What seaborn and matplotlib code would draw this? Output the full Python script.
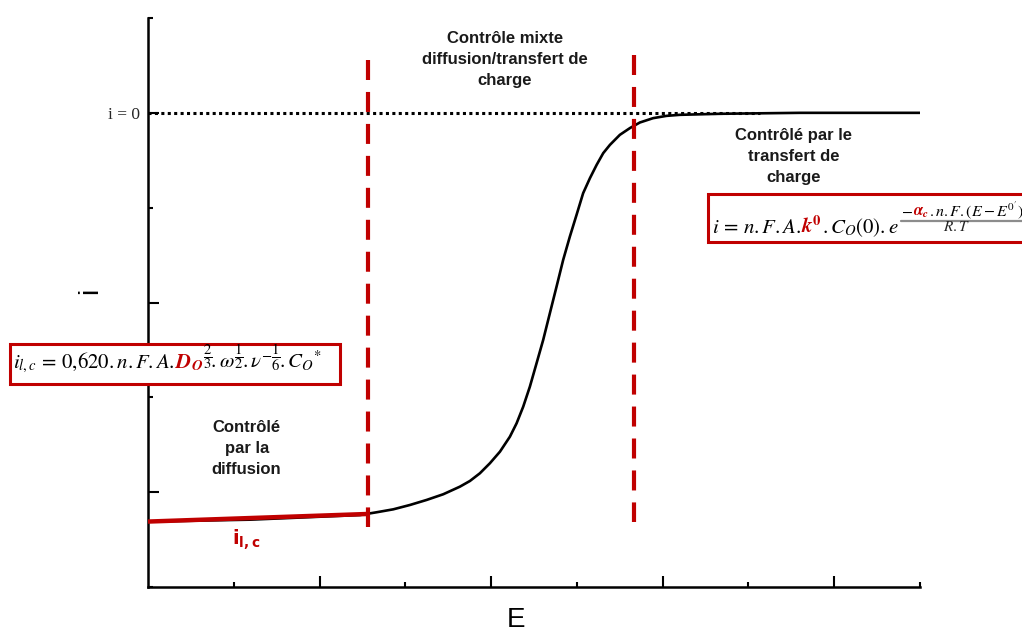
import matplotlib
matplotlib.use("Agg")
import matplotlib.pyplot as plt
import matplotlib.transforms as mtransforms
from matplotlib.patches import Rectangle
from matplotlib.lines import Line2D
import seaborn as sns

# --- values (E and i in tick units, i = 0 is the top plateau)
E_curve = [0.0, 1.19, 2.471, 2.665, 2.859, 3.054, 3.248, 3.442, 3.636, 3.753, 3.869, 3.986,
           4.103, 4.219, 4.297, 4.374, 4.452, 4.530, 4.607, 4.685, 4.763, 4.840, 4.918,
           4.996, 5.073, 5.152, 5.230, 5.307, 5.385, 5.501, 5.618, 5.734, 5.889, 6.045,
           6.200, 6.67, 7.60, 9.0]
i_curve = [-4.31, -4.29, -4.241, -4.212, -4.181, -4.135, -4.082, -4.022, -3.942, -3.882,
           -3.801, -3.695, -3.573, -3.415, -3.274, -3.099, -2.887, -2.640, -2.395, -2.113,
           -1.832, -1.551, -1.305, -1.076, -0.847, -0.689, -0.549, -0.425, -0.338, -0.232,
           -0.161, -0.102, -0.056, -0.032, -0.021, -0.01, 0.0, 0.0]

E_limit = [0.0, 2.56]
i_limit = [-4.31, -4.23]

E_bounds = [2.56, 5.66]
i_bounds_top = [0.56, 0.61]
i_bounds_bottom = [-4.37, -4.31]

E_zero = [0.0, 7.13]
i_zero = [0.0, 0.0]

x_major = [2, 4, 6, 8]
x_minor = [1, 3, 5, 7, 9]
y_major = [-4, -2, 0]
y_major_labels = ["", "", "i = 0"]
y_minor = [-5, -3, -1, 1]

RED = "#C00000"


def chain_text(fig, x, y, pieces, size):
    """Draw mathtext pieces one after another on the same baseline (display px)."""
    renderer = fig.canvas.get_renderer()
    tr = mtransforms.IdentityTransform()
    extents = []
    for s, c in pieces:
        t = fig.text(x, y, s, color=c, fontsize=size, va="baseline", ha="left",
                     transform=tr, zorder=5)
        ex = t.get_window_extent(renderer)
        extents.append(ex)
        tr = mtransforms.offset_copy(t.get_transform(), x=ex.width, units="dots")
    return extents


def main():
    sns.set_theme(style="ticks")
    plt.rcParams["font.family"] = ["Liberation Sans", "DejaVu Sans"]
    plt.rcParams["mathtext.fontset"] = "stix"

    W, H = 1022, 634
    fig = plt.figure(figsize=(W / 100, H / 100), dpi=100)
    ax = fig.add_axes([148 / W, 47 / H, 772 / W, 569 / H])

    # curve and guides
    ax.plot(E_zero, i_zero, color="black", lw=2.2, linestyle=(0, (1, 1.1)), zorder=2)
    sns.lineplot(x=E_curve, y=i_curve, color="black", lw=1.9, ax=ax, zorder=3)
    ax.plot(E_limit, i_limit, color=RED, lw=3.2, solid_capstyle="butt", zorder=4)
    for xb, yt, yb in zip(E_bounds, i_bounds_top, i_bounds_bottom):
        ax.plot([xb, xb], [yt, yb], color=RED, lw=3.0, dashes=(4.8, 2.87), zorder=4)

    ax.set_xlim(0, 9)
    ax.set_ylim(-5, 1)
    sns.despine(ax=ax)
    for sp in ("left", "bottom"):
        ax.spines[sp].set_linewidth(1.8)
        ax.spines[sp].set_color("black")

    ax.set_xticks(x_major)
    ax.set_xticklabels([])
    ax.set_xticks(x_minor, minor=True)
    ax.set_yticks(y_major)
    ax.set_yticklabels(y_major_labels, family="Liberation Serif", fontsize=12.5)
    ax.set_yticks(y_minor, minor=True)
    ax.tick_params(which="major", direction="in", length=8, width=1.5, color="black", pad=6)
    ax.tick_params(which="minor", direction="in", length=3.5, width=1.5, color="black")

    ax.set_xlabel("E", fontsize=20, color="black")
    ax.xaxis.set_label_coords(0.477, -0.035)
    ax.set_ylabel("i", fontsize=20, color="black")
    ax.yaxis.set_label_coords(-0.058, 0.52)

    # region labels
    kw = dict(ha="center", va="center", fontsize=12, fontweight="bold",
              color="#1a1a1a", linespacing=1.5)
    ax.text(4.16, 0.56, "Contrôle mixte\ndiffusion/transfert de\ncharge", **kw)
    ax.text(7.53, -0.46, "Contrôlé par le\ntransfert de\ncharge", **kw)
    ax.text(1.15, -3.54, "Contrôlé\npar la\ndiffusion", **kw)
    ax.text(1.15, -4.50, r"$\mathbf{i}_{\mathbf{l,c}}$", ha="center", va="center",
            fontsize=14, color=RED, math_fontfamily="dejavusans")

    # formula boxes
    fig.add_artist(Rectangle((10 / W, (H - 384) / H), 330 / W, 40 / H, transform=fig.transFigure,
                             facecolor="white", edgecolor=RED, lw=2.2, zorder=1))
    fig.add_artist(Rectangle((708 / W, (H - 242) / H), 330 / W, 48 / H, transform=fig.transFigure,
                             facecolor="white", edgecolor=RED, lw=2.2, zorder=1))

    chain_text(fig, 13, H - 368, [
        (r"$i_{l,c}\,=\,0{,}620.n.F.A.$", "black"),
        (r"$\mathbfit{D}_{\mathbfit{O}}$", RED),
        (r"${}^{\dfrac{2}{3}}\!.\omega^{\dfrac{1}{2}}\!.\nu^{-\dfrac{1}{6}}\!.C_O{}^{*}$", "black"),
    ], 15)

    ex = chain_text(fig, 712, H - 233, [
        (r"$i\,=\,n.F.A.$", "black"),
        (r"$\mathbfit{k}^{\mathbf{0}}$", RED),
        (r"$.C_O(0).e$", "black"),
    ], 15)
    x0 = ex[-1].x1 + 3
    num = chain_text(fig, x0, H - 216, [
        (r"$-$", "black"),
        (r"$\mathbfit{\alpha}_{\mathbfit{c}}$", RED),
        (r"$.n.F.(E-E^{0^{\prime}})$", "black"),
    ], 11.5)
    x1 = num[-1].x1
    fig.add_artist(Line2D([x0, x1], [H - 221, H - 221], transform=mtransforms.IdentityTransform(),
                          color="#8c8c8c", lw=1.6, zorder=5))
    fig.text(957, H - 231, r"$R.T$", fontsize=11, ha="center", va="baseline",
             transform=mtransforms.IdentityTransform(), zorder=5)

    fig.savefig("out.png", dpi=100)
    plt.close(fig)


if __name__ == "__main__":
    main()
